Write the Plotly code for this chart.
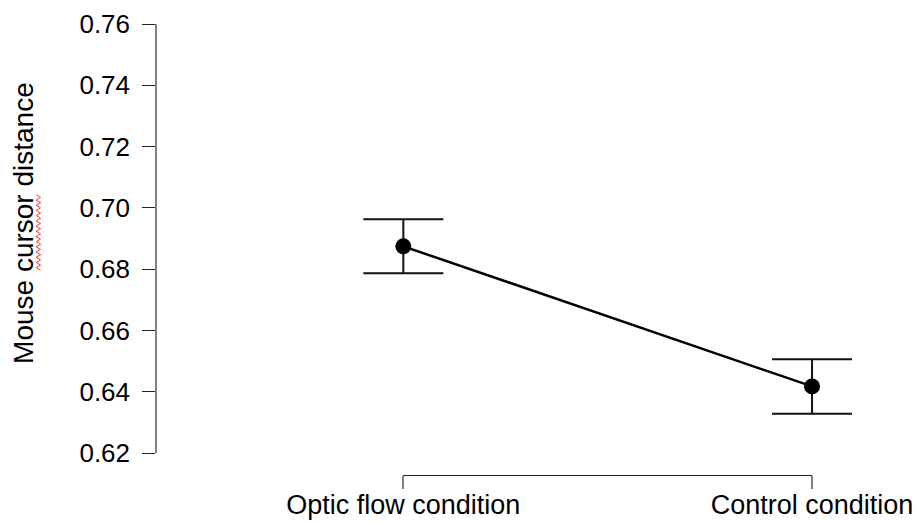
import plotly.graph_objects as go

# Data: mean mouse cursor distance per condition, with error bar half-widths
conditions = ["Optic flow condition", "Control condition"]
mean_distance = [0.6875, 0.6418]
error_halfwidth = [0.0088, 0.0089]

y_ticks = [0.62, 0.64, 0.66, 0.68, 0.70, 0.72, 0.74, 0.76]
y_title = "Mouse cursor distance"

# Figure geometry (pixels)
W, H = 917, 523
left, right = 156.5, 877          # plotting region horizontally
top, bottom = 24.3, 475           # paper top / bottom (x axis bracket sits on bottom)
y_axis_bottom = 453.3             # where the y range ends (0.62)
cat_px = [403, 812]               # horizontal pixel positions of the two categories

paper_w = right - left
paper_h = bottom - top
px_per_unit = (cat_px[1] - cat_px[0])
x_range = [-(cat_px[0] - left) / px_per_unit, 1 + (right - cat_px[1]) / px_per_unit]
x2_domain = [(cat_px[0] - left) / paper_w, (cat_px[1] - left) / paper_w]
y_domain = [(bottom - y_axis_bottom) / paper_h, 1]

FONT = "Liberation Sans, Helvetica, Arial, sans-serif"

fig = go.Figure()

fig.add_trace(go.Scatter(
    x=conditions,
    y=mean_distance,
    mode="lines+markers",
    line=dict(color="black", width=2.5),
    marker=dict(color="black", size=16),
    error_y=dict(type="data", array=error_halfwidth, visible=True,
                 color="#111111", thickness=2, width=40),
    cliponaxis=False,
    showlegend=False,
    hoverinfo="x+y",
))

# Invisible trace that carries the bracket-style category axis
fig.add_trace(go.Scatter(
    x=[0, 1], y=[None, None], xaxis="x2", yaxis="y",
    mode="markers", showlegend=False, hoverinfo="skip",
))

fig.update_layout(
    width=W, height=H,
    margin=dict(l=left, r=W - right, t=top, b=H - bottom, pad=0, autoexpand=False),
    paper_bgcolor="white",
    plot_bgcolor="rgba(0,0,0,0)",
    font=dict(family=FONT, size=26, color="black"),
    xaxis=dict(
        type="category",
        categoryorder="array", categoryarray=conditions,
        range=x_range,
        visible=False,
        showgrid=False, zeroline=False,
        anchor="y",
        automargin=False,
    ),
    xaxis2=dict(
        domain=x2_domain,
        range=[0, 1],
        anchor="free", position=0,
        tickmode="array", tickvals=[0, 1], ticktext=conditions,
        showline=True, linecolor="#222222", linewidth=1.2,
        ticks="outside", ticklen=13, tickcolor="#808080", tickwidth=1.5,
        showgrid=False, zeroline=False,
        tickfont=dict(family=FONT, size=27, color="black"),
        ticklabelstandoff=-8,
        automargin=False,
    ),
    yaxis=dict(
        domain=y_domain,
        range=[y_ticks[0], y_ticks[-1]],
        tickmode="array", tickvals=y_ticks,
        ticktext=[f"{v:.2f}" for v in y_ticks],
        showline=True, linecolor="#808080", linewidth=1.5,
        ticks="outside", ticklen=13, tickcolor="#222222", tickwidth=1.2,
        showgrid=False, zeroline=False,
        tickfont=dict(family=FONT, size=26, color="black"),
        ticklabelstandoff=7,
        automargin=False,
    ),
)

# Rotated y-axis title
title_x_px, title_y_px = 23, 223.5
fig.add_annotation(
    text=y_title,
    xref="paper", yref="paper",
    x=(title_x_px - left) / paper_w,
    y=(bottom - title_y_px) / paper_h,
    textangle=-90, showarrow=False,
    xanchor="center", yanchor="middle",
    font=dict(family=FONT, size=28, color="black"),
)

# Red wavy spell-check underline beneath the word "cursor"
wave_x0, wave_x1 = 35.5, 40.0
wave_y0, wave_y1 = 195.0, 272.0
step = 2.6
pts = []
yy = wave_y0
i = 0
while yy <= wave_y1:
    xx = wave_x0 if i % 2 == 0 else wave_x1
    pts.append(((xx - left) / paper_w, (bottom - yy) / paper_h))
    yy += step
    i += 1
path = "M " + " L ".join(f"{px:.5f},{py:.5f}" for px, py in pts)
fig.add_shape(type="path", path=path, xref="paper", yref="paper",
              line=dict(color="#ff3b30", width=1))

fig.write_html("out.html")
